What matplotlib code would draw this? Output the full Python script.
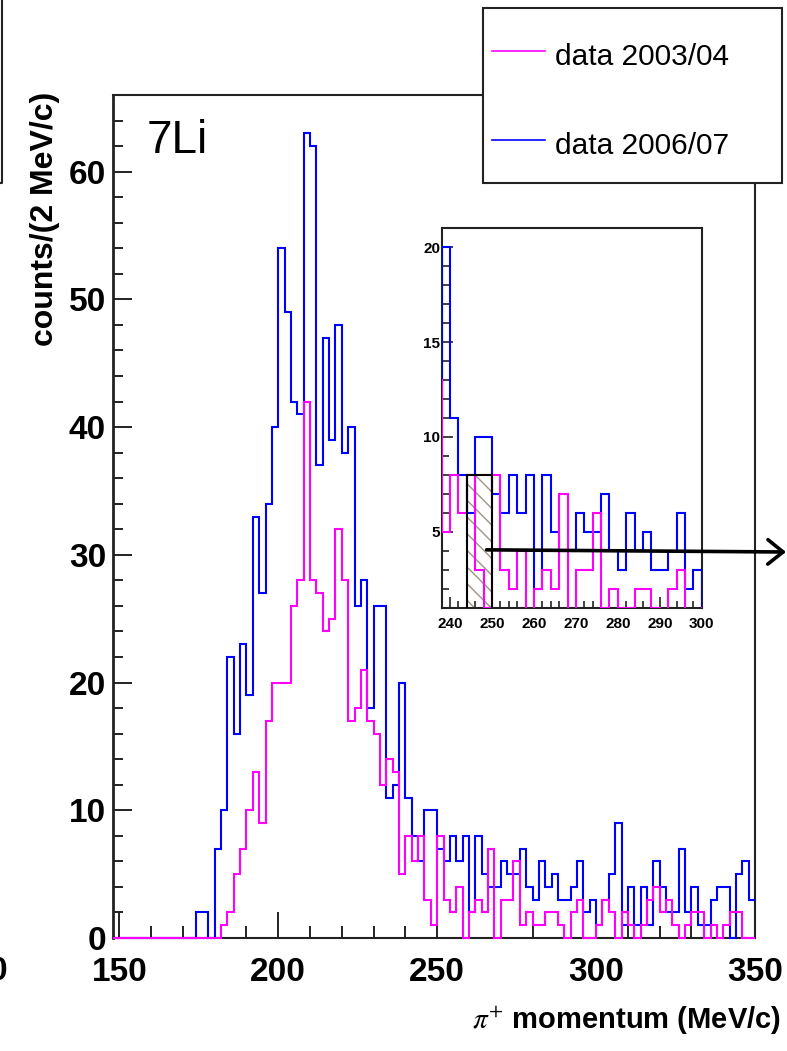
import numpy as np
import matplotlib
matplotlib.use("Agg")
import matplotlib.pyplot as plt
from matplotlib.patches import Rectangle
from matplotlib.lines import Line2D
from matplotlib.ticker import MultipleLocator

plt.rcParams['font.family'] = ['Liberation Sans', 'DejaVu Sans']
plt.rcParams['mathtext.fontset'] = 'stix'
plt.rcParams['hatch.linewidth'] = 1.0

# pi+ momentum histograms, 2 MeV/c bins from 148 to 350 MeV/c
bin_edges = np.arange(148, 352, 2)
series_names = ['data 2003/04', 'data 2006/07']
counts_0304 = [0] * 17 + [
    1, 2, 5, 7, 10, 13, 9, 17, 20,
    20, 20, 26, 28, 42, 28, 27, 24, 25, 32,
    28, 17, 18, 21, 17, 16, 12, 14, 13, 5,
    8, 6, 8, 3, 1, 8, 3, 2, 4, 0,
    2, 3, 2, 7, 0, 3, 3, 6, 1, 2,
    1, 1, 2, 2, 1, 0, 2, 3, 0, 0,
    1, 3, 2, 0, 2, 1, 0, 1, 3, 4,
    2, 3, 1, 0, 1, 2, 2, 0, 1, 0,
    1, 2, 2, 0, 0]
counts_0607 = [0] * 13 + [2, 2, 0] + [
    7, 10, 22, 16, 23, 19, 33, 27, 34, 40,
    54, 49, 42, 41, 63, 62, 37, 47, 39, 48,
    38, 40, 26, 28, 18, 26, 26, 11, 12, 20,
    11, 8, 6, 10, 10, 7, 6, 8, 6, 8,
    2, 8, 5, 4, 4, 6, 5, 5, 7, 4,
    3, 6, 4, 5, 3, 3, 4, 6, 2, 3,
    1, 3, 5, 9, 1, 4, 1, 4, 1, 6,
    4, 2, 2, 7, 2, 4, 1, 1, 3, 4,
    4, 0, 5, 6, 3]
colors = ['#ff00ff', '#0000ff']

# signal window shown in the inset
window = (244, 250)
window_height = 8

W, H = 787, 1051
def fx(px):
    return px / W
def fy(py):
    return 1 - py / H

fig = plt.figure(figsize=(W / 100, H / 100), dpi=100)
ax = fig.add_axes([fx(113), fy(938), (755 - 113) / W, (938 - 95) / H])

for vals, c, z in [(counts_0607, colors[1], 3), (counts_0304, colors[0], 4)]:
    ax.stairs(vals, bin_edges, baseline=None, color=c, lw=1.5, zorder=z,
              clip_on=False)

ax.set_xlim(148, 350)
ax.set_ylim(0, 66)
ax.xaxis.set_major_locator(MultipleLocator(50))
ax.xaxis.set_minor_locator(MultipleLocator(10))
ax.yaxis.set_major_locator(MultipleLocator(10))
ax.yaxis.set_minor_locator(MultipleLocator(2))
ax.tick_params(which='both', direction='in', top=False, right=False,
               color='#222222', width=1.4)
ax.tick_params(axis='x', which='major', length=19, pad=14)
ax.tick_params(axis='x', which='minor', length=9)
ax.tick_params(axis='y', which='major', length=14, pad=5)
ax.tick_params(axis='y', which='minor', length=7)
for lab in ax.get_xticklabels() + ax.get_yticklabels():
    lab.set_fontsize(24)
    lab.set_fontweight('bold')
for s in ax.spines.values():
    s.set_linewidth(1.5)
    s.set_color('#222222')
ax.spines['left'].set_linewidth(2.0)

fig.text(fx(45), fy(92), 'counts/(2 MeV/c)', rotation=90, ha='center',
         va='top', fontsize=23, fontweight='bold')
fig.text(fx(781), fy(1020), r'$\pi^{+}$ momentum (MeV/c)', ha='right',
         va='center', fontsize=21, fontweight='bold')
fig.text(fx(147), fy(153), '7Li', fontsize=33, va='baseline')

# inset: zoom on the high-momentum tail
axi = fig.add_axes([fx(441.7), fy(607.7), 260 / W, 379.4 / H])
axi.set_facecolor('white')
for vals, c, z in [(counts_0607, colors[1], 3), (counts_0304, colors[0], 4)]:
    axi.stairs(vals, bin_edges, baseline=None, color=c, lw=1.5, zorder=z)
axi.set_xlim(238, 300)
axi.set_ylim(1, 21)
axi.xaxis.set_major_locator(MultipleLocator(10))
axi.xaxis.set_minor_locator(MultipleLocator(2))
axi.yaxis.set_major_locator(MultipleLocator(5))
axi.yaxis.set_minor_locator(MultipleLocator(1))
axi.tick_params(which='both', direction='in', top=False, right=False,
                color='#222222', width=1.2)
axi.tick_params(which='major', length=8)
axi.tick_params(which='minor', length=5)
axi.tick_params(axis='x', pad=7)
axi.tick_params(axis='y', pad=1)
for lab in axi.get_xticklabels() + axi.get_yticklabels():
    lab.set_fontsize(11)
    lab.set_fontweight('bold')
for s in axi.spines.values():
    s.set_linewidth(1.5)
    s.set_color('#222222')

axi.add_patch(Rectangle((window[0], 0), window[1] - window[0], window_height,
                        fill=False, hatch='\\\\', edgecolor='#a09486',
                        lw=0, zorder=2))
axi.add_patch(Rectangle((window[0], 0), window[1] - window[0], window_height,
                        fill=False, edgecolor='black', lw=1.5, zorder=5))
axi.annotate('', xy=(fx(786), fy(552)), xycoords='figure fraction',
             xytext=(248.7, 4.05), textcoords='data',
             arrowprops=dict(arrowstyle='->,head_length=0.5,head_width=0.4',
                             lw=2.6, color='black', mutation_scale=22,
                             shrinkA=0, shrinkB=0),
             annotation_clip=False, zorder=6)

# legend box
fig.add_artist(Rectangle((fx(482.5), fy(183)), 299 / W, 175 / H,
                         transform=fig.transFigure, facecolor='white',
                         edgecolor='#222222', lw=1.5, zorder=5))
for i, (name, c) in enumerate(zip(series_names, colors)):
    yl = [51, 140][i]
    fig.add_artist(Line2D([fx(491.7), fx(545)], [fy(yl), fy(yl)],
                          transform=fig.transFigure, color=c, lw=1.2,
                          zorder=6))
    fig.text(fx(555), fy(yl + 14), name, fontsize=21.5, va='baseline',
             zorder=6)

# edges of the neighbouring panel
fig.add_artist(Line2D([fx(1.5), fx(1.5), fx(0)], [fy(0), fy(183), fy(183)],
                      transform=fig.transFigure, color='#222222', lw=1.5))
fig.text(fx(-2), fy(972), '0', ha='center', va='center', fontsize=24,
         fontweight='bold')

fig.savefig('out.png', dpi=100)
